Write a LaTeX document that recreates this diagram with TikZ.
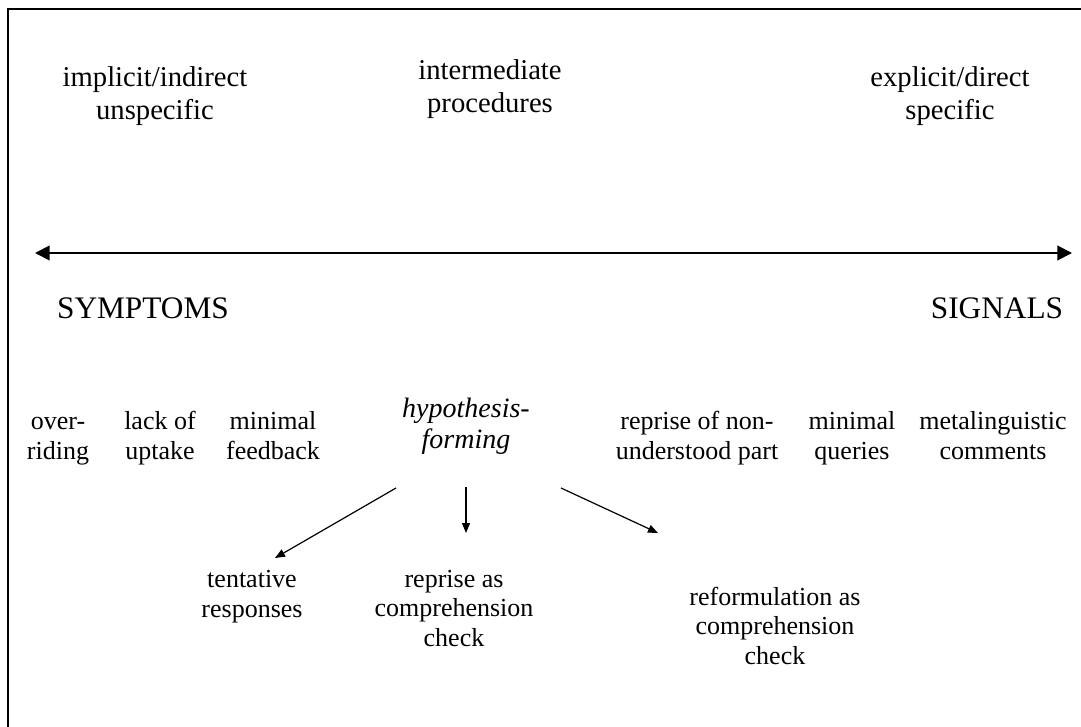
\documentclass[tikz,border=0pt]{standalone}
\usepackage{fontspec}
\setmainfont{Liberation Serif}
\usetikzlibrary{arrows.meta}

\tikzset{
  toplabel/.style={align=center, anchor=base, inner sep=0pt, font=\fontsize{21.5}{24.75}\selectfont},
  lowlabel/.style={align=center, anchor=base, inner sep=0pt, font=\fontsize{19.5}{22}\selectfont},
  biglabel/.style={anchor=base, inner sep=0pt, font=\fontsize{23.5}{25}\selectfont},
  scalearrow/.style={line width=1.5pt, {Triangle[length=11pt,width=11pt]}-{Triangle[length=11pt,width=11pt]}},
  formarrow/.style={line width=0.9pt, -{Triangle[length=7.5pt,width=6pt]}}
}

\begin{document}
\begin{tikzpicture}[x=0.75pt, y=-0.75pt]
    \useasboundingbox (0, 0) rectangle (1081, 727);
    \clip (0, 0) rectangle (1081, 727);
    \draw[line width=1.5pt] (8, 9) rectangle (1120, 760);

    % scale ends (anchored at the last baseline)
    \node[toplabel] (implicit) at (155, 120) {implicit/indirect\\unspecific};
    \node[toplabel] (intermediate) at (490, 113) {intermediate\\procedures};
    \node[toplabel] (explicit) at (950, 120) {explicit/direct\\specific};

    \coordinate (leftend) at (35, 253);
    \coordinate (rightend) at (1072, 253);
    \draw[scalearrow] (leftend) -- (rightend);

    \node[biglabel] (symptoms) at (143, 318) {SYMPTOMS};
    \node[biglabel] (signals) at (997, 318) {SIGNALS};

    % procedures
    \node[lowlabel] (overriding) at (58, 459) {over-\\riding};
    \node[lowlabel] (lackuptake) at (160, 459) {lack of\\uptake};
    \node[lowlabel] (minfeedback) at (273, 459) {minimal\\feedback};
    \node[toplabel, font=\fontsize{21}{23.25}\selectfont\itshape] (hypothesis) at (466, 448) {hypothesis-\\forming};
    \node[lowlabel] (reprisenon) at (697, 459) {reprise of non-\\understood part};
    \node[lowlabel] (minqueries) at (852, 459) {minimal\\queries};
    \node[lowlabel] (metacomments) at (993, 459) {metalinguistic\\comments};

    \node[lowlabel] (tentative) at (252, 617) {tentative\\responses};
    \node[lowlabel] (repriseas) at (454, 646) {reprise as\\comprehension\\check};
    \node[lowlabel] (reformulation) at (775, 664) {reformulation as\\comprehension\\check};

    \coordinate (hypleft) at (396, 488);
    \coordinate (hypmid) at (466, 487);
    \coordinate (hypright) at (561, 488);
    \coordinate (tentativetop) at (275, 558);
    \coordinate (repriseastop) at (466, 533);
    \coordinate (reformtop) at (658, 533);
    \draw[formarrow] (hypleft) -- (tentativetop);
    \draw[formarrow] (hypmid) -- (repriseastop);
    \draw[formarrow] (hypright) -- (reformtop);
\end{tikzpicture}
\end{document}
